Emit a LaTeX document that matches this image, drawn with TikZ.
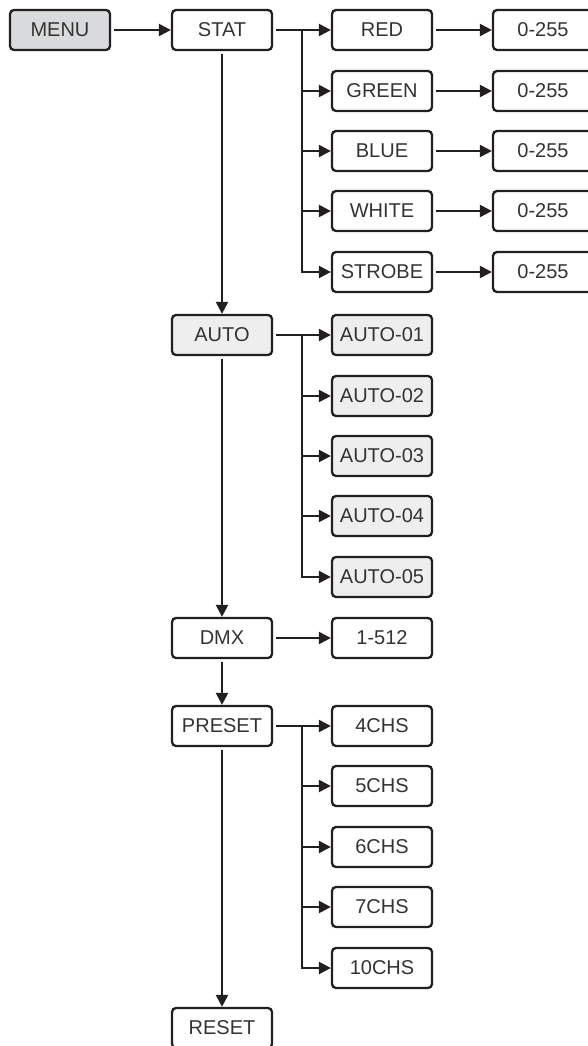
\documentclass[tikz,border=0pt]{standalone}
\usepackage{fontspec}
\setmainfont{Liberation Sans}
\usetikzlibrary{arrows.meta}
\definecolor{lnc}{HTML}{231F20}
\definecolor{txc}{HTML}{333333}
\definecolor{menugray}{HTML}{D9DADB}
\definecolor{autogray}{HTML}{EEEEEE}
\begin{document}
\begin{tikzpicture}[x=1pt,y=-1pt,
  box/.style={draw=lnc,line width=2.3pt,rounded corners=4pt,minimum width=100pt,minimum height=40pt,inner sep=0pt,font=\fontsize{20}{24}\selectfont,text=txc,fill=white},
  darkbox/.style={box,fill=menugray},
  lightbox/.style={box,fill=autogray},
  conn/.style={draw=lnc,line width=2.3pt},
  tip/.style={-{Triangle[length=12pt,width=12pt]}},
  arr/.style={conn,tip,shorten <=3pt}
]
\useasboundingbox (0,0) rectangle (587,1046);
% main column
\node[darkbox] (menu) at (60,30) {MENU};
\node[box] (stat) at (222,30) {STAT};
\node[lightbox] (auto) at (222,335) {AUTO};
\node[box] (dmx) at (222,638) {DMX};
\node[box] (preset) at (222,726) {PRESET};
\node[box] (reset) at (222,1028) {RESET};
% STAT branch
\node[box] (red) at (382,30) {RED};
\node[box] (green) at (382,91) {GREEN};
\node[box] (blue) at (382,151) {BLUE};
\node[box] (white) at (382,211) {WHITE};
\node[box] (strobe) at (382,272) {STROBE};
\node[box] (v1) at (543,30) {0-255};
\node[box] (v2) at (543,91) {0-255};
\node[box] (v3) at (543,151) {0-255};
\node[box] (v4) at (543,211) {0-255};
\node[box] (v5) at (543,272) {0-255};
% AUTO branch
\node[lightbox] (a1) at (382,335) {AUTO-01};
\node[lightbox] (a2) at (382,396) {AUTO-02};
\node[lightbox] (a3) at (382,456) {AUTO-03};
\node[lightbox] (a4) at (382,516) {AUTO-04};
\node[lightbox] (a5) at (382,577) {AUTO-05};
% DMX
\node[box] (addr) at (382,638) {1-512};
% PRESET branch
\node[box] (c4) at (382,726) {4CHS};
\node[box] (c5) at (382,786) {5CHS};
\node[box] (c6) at (382,847) {6CHS};
\node[box] (c7) at (382,907) {7CHS};
\node[box] (c10) at (382,968) {10CHS};
% junction coordinates
\coordinate (sj) at (302,30);
\coordinate (aj) at (302,335);
\coordinate (pj) at (302,726);
% main connectors
\draw[arr] (menu.east) -- (stat.west);
\draw[arr] (stat.south) -- (auto.north);
\draw[arr] (auto.south) -- (dmx.north);
\draw[arr] (dmx.south) -- (preset.north);
\draw[arr] (preset.south) -- (reset.north);
% STAT branch
\draw[arr] (stat.east) -- (red.west);
\draw[conn,tip] (sj) -- (sj |- strobe.west) -- (strobe.west);
\foreach \n in {green,blue,white}{\draw[conn,tip] (sj |- \n.west) -- (\n.west);}
\draw[arr] (red.east) -- (v1.west);
\draw[arr] (green.east) -- (v2.west);
\draw[arr] (blue.east) -- (v3.west);
\draw[arr] (white.east) -- (v4.west);
\draw[arr] (strobe.east) -- (v5.west);
% AUTO branch
\draw[arr] (auto.east) -- (a1.west);
\draw[conn,tip] (aj) -- (aj |- a5.west) -- (a5.west);
\foreach \n in {a2,a3,a4}{\draw[conn,tip] (aj |- \n.west) -- (\n.west);}
% DMX
\draw[arr] (dmx.east) -- (addr.west);
% PRESET branch
\draw[arr] (preset.east) -- (c4.west);
\draw[conn,tip] (pj) -- (pj |- c10.west) -- (c10.west);
\foreach \n in {c5,c6,c7}{\draw[conn,tip] (pj |- \n.west) -- (\n.west);}
\end{tikzpicture}
\end{document}
